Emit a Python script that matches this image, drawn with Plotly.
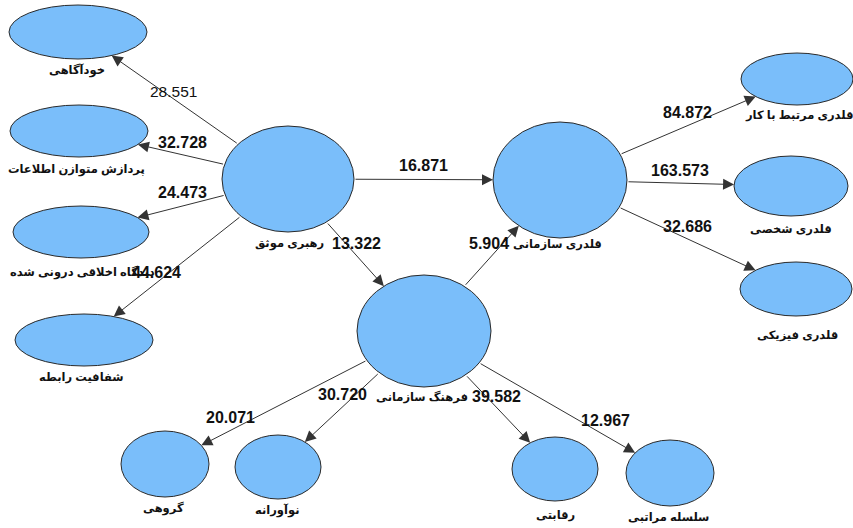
import math
import plotly.graph_objects as go

# ---------------- data ----------------
node_names = [
    "رهبری موثق", "خودآگاهی", "پردازش متوازن اطلاعات", "دیدگاه اخلاقی درونی شده",
    "شفافیت رابطه", "قلدری سازمانی", "قلدری مرتبط با کار", "قلدری شخصی",
    "قلدری فیزیکی", "فرهنگ سازمانی", "گروهی", "نوآورانه", "رقابتی", "سلسله مراتبی",
]
edge_sources = [
    "رهبری موثق", "رهبری موثق", "رهبری موثق", "رهبری موثق", "رهبری موثق", "رهبری موثق",
    "فرهنگ سازمانی", "قلدری سازمانی", "قلدری سازمانی", "قلدری سازمانی",
    "فرهنگ سازمانی", "فرهنگ سازمانی", "فرهنگ سازمانی", "فرهنگ سازمانی",
]
edge_targets = [
    "خودآگاهی", "پردازش متوازن اطلاعات", "دیدگاه اخلاقی درونی شده", "شفافیت رابطه",
    "قلدری سازمانی", "فرهنگ سازمانی", "قلدری سازمانی", "قلدری مرتبط با کار",
    "قلدری شخصی", "قلدری فیزیکی", "گروهی", "نوآورانه", "رقابتی", "سلسله مراتبی",
]
t_values = ["28.551", "32.728", "24.473", "44.624", "16.871", "13.322", "5.904",
            "84.872", "163.573", "32.686", "20.071", "30.720", "39.582", "12.967"]

# ---------------- layout (positions / sizes, in page pixels) ----------------
node_geom = {  # cx, cy, rx, ry
    "رهبری موثق": (288, 179, 66, 53),
    "خودآگاهی": (78, 32, 69, 27),
    "پردازش متوازن اطلاعات": (79, 131, 69, 26),
    "دیدگاه اخلاقی درونی شده": (81, 232, 68, 26),
    "شفافیت رابطه": (84, 340, 69, 26),
    "قلدری سازمانی": (560, 180, 67, 58),
    "قلدری مرتبط با کار": (797, 79, 56, 26),
    "قلدری شخصی": (791, 186, 57, 30),
    "قلدری فیزیکی": (796, 289, 56, 27),
    "فرهنگ سازمانی": (424, 331, 67, 56),
    "گروهی": (165, 464, 44, 33),
    "نوآورانه": (278, 467, 43, 32),
    "رقابتی": (555, 469, 43, 32),
    "سلسله مراتبی": (670, 473, 44, 33),
}
node_label_pos = {
    "رهبری موثق": (289, 244),
    "خودآگاهی": (77, 70),
    "پردازش متوازن اطلاعات": (76, 170),
    "دیدگاه اخلاقی درونی شده": (82, 272),
    "شفافیت رابطه": (81, 377),
    "قلدری سازمانی": (557, 244),
    "قلدری مرتبط با کار": (799, 115),
    "قلدری شخصی": (791, 229),
    "قلدری فیزیکی": (797, 335),
    "فرهنگ سازمانی": (422, 397),
    "گروهی": (163, 508),
    "نوآورانه": (277, 510),
    "رقابتی": (555, 515),
    "سلسله مراتبی": (668, 517),
}
edge_label_pos = [(173, 91), (182, 142), (182, 192), (156, 272), (423, 165),
                  (356, 243), (489, 243), (687, 112), (680, 170), (687, 226),
                  (230, 417), (342, 394), (496, 396), (605, 420)]

W, H = 853, 528
FILL = "#7abefa"
FONT = "Arial, 'Liberation Sans', 'DejaVu Sans', sans-serif"


def boundary(name, tx, ty):
    cx, cy, rx, ry = node_geom[name]
    dx, dy = tx - cx, ty - cy
    t = 1.0 / math.sqrt((dx / rx) ** 2 + (dy / ry) ** 2)
    return cx + dx * t, cy + dy * t


fig = go.Figure()
fig.add_trace(go.Scatter(x=[0, W], y=[0, H], mode="markers",
                         marker=dict(opacity=0), hoverinfo="skip", showlegend=False))

shapes = []
for name in node_names:
    cx, cy, rx, ry = node_geom[name]
    shapes.append(dict(type="circle", xref="x", yref="y",
                       x0=cx - rx, x1=cx + rx, y0=cy - ry, y1=cy + ry,
                       fillcolor=FILL, line=dict(color="#2a2a2a", width=1), layer="above"))

annotations = []
# arrows
for s, t in zip(edge_sources, edge_targets):
    scx, scy = node_geom[s][:2]
    tcx, tcy = node_geom[t][:2]
    x0, y0 = boundary(s, tcx, tcy)
    x1, y1 = boundary(t, scx, scy)
    annotations.append(dict(x=x1, y=y1, ax=x0, ay=y0, xref="x", yref="y",
                            axref="x", ayref="y", text="", showarrow=True,
                            arrowhead=2, arrowsize=2.2, arrowwidth=1,
                            arrowcolor="#333333", standoff=0, startstandoff=0))
# node labels
for name in node_names:
    lx, ly = node_label_pos[name]
    annotations.append(dict(x=lx, y=ly, xref="x", yref="y", text="<b>%s</b>" % name,
                            showarrow=False, font=dict(family=FONT, size=11.5, color="#111111")))
# edge labels
for i, (val, (lx, ly)) in enumerate(zip(t_values, edge_label_pos)):
    txt = val if i == 0 else "<b>%s</b>" % val
    annotations.append(dict(x=lx, y=ly, xref="x", yref="y", text=txt, showarrow=False,
                            font=dict(family=FONT, size=16 if i else 15.5, color="#111111")))

fig.update_layout(
    width=W, height=H, margin=dict(l=0, r=0, t=0, b=0),
    paper_bgcolor="white", plot_bgcolor="white",
    xaxis=dict(range=[0, W], visible=False, fixedrange=True),
    yaxis=dict(range=[H, 0], visible=False, fixedrange=True),
    shapes=shapes, annotations=annotations, showlegend=False,
)
fig.write_html("out.html", config={"displayModeBar": False},
               post_script="document.body.style.margin='0';document.body.style.overflow='hidden';")
